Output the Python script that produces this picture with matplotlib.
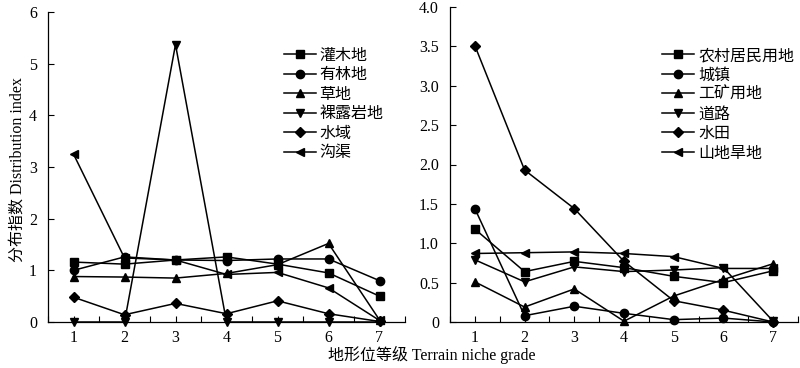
import matplotlib
matplotlib.use("Agg")
import matplotlib.pyplot as plt
from matplotlib.ticker import MultipleLocator, FuncFormatter

plt.rcParams["font.family"] = ["Liberation Serif", "Noto Sans CJK SC"]
plt.rcParams["axes.unicode_minus"] = False

grades = [1, 2, 3, 4, 5, 6, 7]

# left panel: natural land types
shrub = [1.16, 1.12, 1.20, 1.26, 1.12, 0.95, 0.50]
forest = [1.00, 1.26, 1.20, 1.19, 1.22, 1.22, 0.80]
grass = [0.88, 0.87, 0.85, 0.94, 1.11, 1.52, 0.04]
bare_rock = [0.0, 0.0, 5.37, 0.0, 0.0, 0.0, 0.0]
water = [0.48, 0.14, 0.36, 0.16, 0.41, 0.16, 0.01]
ditch = [3.25, 1.24, 1.20, 0.92, 0.96, 0.66, 0.03]

# right panel: built-up and farmland types
rural = [1.18, 0.64, 0.77, 0.69, 0.58, 0.50, 0.65]
town = [1.44, 0.08, 0.20, 0.11, 0.03, 0.05, 0.0]
mining = [0.51, 0.19, 0.42, 0.01, 0.33, 0.54, 0.74]
road = [0.79, 0.51, 0.70, 0.64, 0.66, 0.69, 0.01]
paddy = [3.51, 1.93, 1.44, 0.77, 0.27, 0.15, 0.0]
dryland = [0.87, 0.88, 0.89, 0.87, 0.83, 0.68, 0.68]

left_series = [
    ("灌木地", shrub, "s"),
    ("有林地", forest, "o"),
    ("草地", grass, "^"),
    ("裸露岩地", bare_rock, "v"),
    ("水域", water, "D"),
    ("沟渠", ditch, "<"),
]
right_series = [
    ("农村居民用地", rural, "s"),
    ("城镇", town, "o"),
    ("工矿用地", mining, "^"),
    ("道路", road, "v"),
    ("水田", paddy, "D"),
    ("山地旱地", dryland, "<"),
]

fig = plt.figure(figsize=(8, 3.68), dpi=100)
ax1 = fig.add_axes([48 / 800, 46 / 368, 357 / 800, 310 / 368])
ax2 = fig.add_axes([450 / 800, 46 / 368, 348 / 800, 315 / 368])


def style(ax, series, ymax, ystep, fmt, legend_xy):
    for name, vals, mk in series:
        ms = 5 if mk == "D" else 6
        ax.plot(grades, vals, color="black", lw=1.1, marker=mk,
                markersize=ms, label=name, clip_on=False, zorder=3)
    ax.set_xlim(0.5, 7.5)
    ax.set_ylim(0, ymax)
    ax.xaxis.set_major_locator(MultipleLocator(1))
    ax.xaxis.set_minor_locator(MultipleLocator(0.5))
    ax.yaxis.set_major_locator(MultipleLocator(ystep))
    ax.yaxis.set_major_formatter(FuncFormatter(fmt))
    ax.tick_params(direction="in", length=4, width=0.8, labelsize=11.5)
    ax.tick_params(axis="x", which="minor", direction="in", length=4, width=0.8)
    ax.tick_params(axis="x", pad=6)
    ax.tick_params(axis="y", pad=8)
    for s in ["top", "right"]:
        ax.spines[s].set_visible(False)
    for s in ["left", "bottom"]:
        ax.spines[s].set_linewidth(0.9)
    ax.legend(loc="upper left", bbox_to_anchor=legend_xy, frameon=False,
              fontsize=11.5, borderpad=0, borderaxespad=0, labelspacing=0.22,
              handlelength=2.0, handletextpad=0.25)


style(ax1, left_series, 6, 1, lambda v, p: f"{v:.0f}", (0.66, 0.885))
style(ax2, right_series, 4, 0.5,
      lambda v, p: "0" if v == 0 else f"{v:.1f}", (0.61, 0.87))

fig.text(432 / 800, 1 - 355 / 368, "地形位等级 Terrain niche grade",
         ha="center", va="center", fontsize=11.5)
fig.text(18 / 800, 1 - 170 / 368, "分布指数 Distribution index",
         ha="center", va="center", rotation=90, fontsize=11.5)

fig.savefig("out.png", dpi=100)
